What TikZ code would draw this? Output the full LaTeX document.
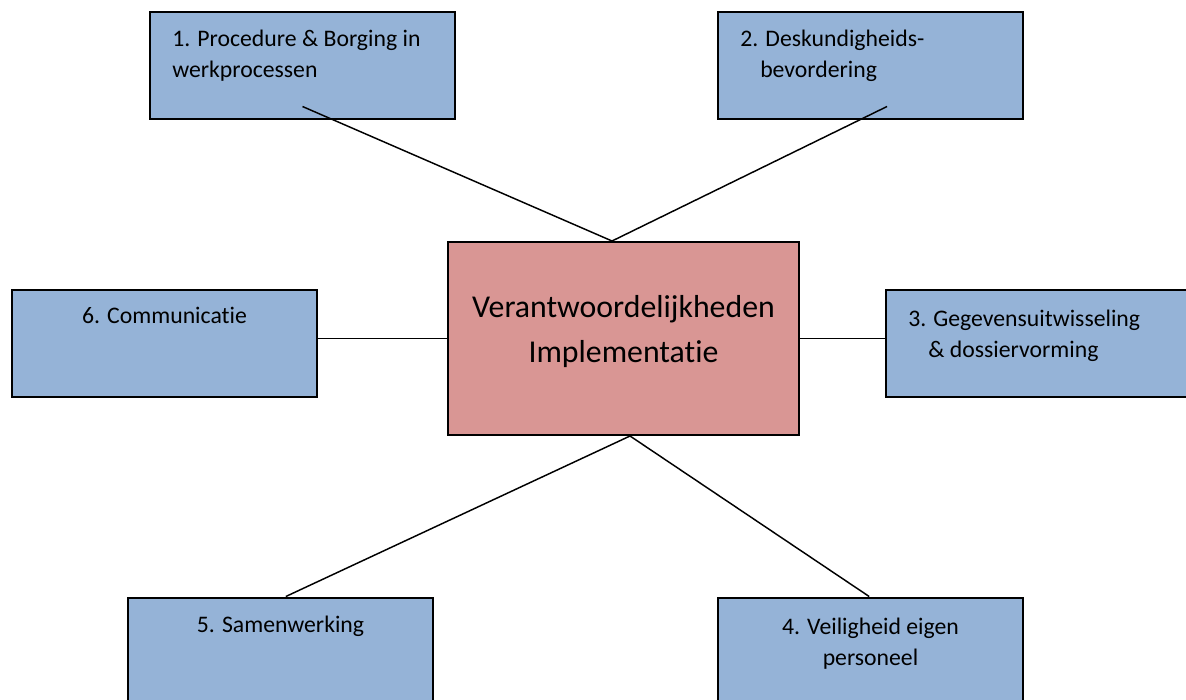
\documentclass[tikz,border=0pt]{standalone}
\usepackage{fontspec}
\setmainfont{Carlito}[Ligatures=NoCommon]
\usepackage{tikz}
\usepackage{xcolor}
\definecolor{boxblue}{RGB}{149,179,215}
\definecolor{hubpink}{RGB}{217,150,148}

\begin{document}
\begin{tikzpicture}[x=0.75pt, y=-0.75pt,
    themebox/.style={draw, line width=1.5pt, fill=boxblue, minimum width=228.75pt, minimum height=80.25pt, inner sep=0pt},
    hubbox/.style={draw, line width=1.5pt, fill=hubpink, minimum width=263.25pt, minimum height=144.75pt, inner sep=0pt},
    boxtext/.style={inner sep=0pt, font=\fontsize{17.8}{23.25}\selectfont},
    link/.style={line width=1.1pt}]
    \clip (0,0) rectangle (1186,700);

    % Centre box
    \node[hubbox] (hub) at (623.5,338.5) {};
    \node[inner sep=0pt, align=center, anchor=base, font=\fontsize{23.85}{33.75}\selectfont] (hubtext) at (623.5,362) {Verantwoordelijkheden\\Implementatie};

    % Theme boxes
    \node[themebox] (b1) at (302.5,65) {};
    \node[themebox] (b2) at (870.5,65) {};
    \node[themebox] (b3) at (1038.5,343) {};
    \node[themebox] (b4) at (870.5,651) {};
    \node[themebox] (b5) at (280.5,651) {};
    \node[themebox] (b6) at (164.5,343) {};

    % Box texts
    \node[boxtext, align=left, anchor=base west] (t1) at (172,77) {1. Procedure \& Borging in\\werkprocessen};
    \node[boxtext, align=left, anchor=base west] (t2) at (740,77) {2. Deskundigheids-\\\hspace*{15pt}bevordering};
    \node[boxtext, align=left, anchor=base west] (t3) at (908,357) {3. Gegevensuitwisseling\\\hspace*{15pt}\& dossiervorming};
    \node[boxtext, align=center, anchor=base] (t4) at (870.5,665) {4. Veiligheid eigen\\personeel};
    \node[boxtext, anchor=base] (t5) at (280.5,632) {5. Samenwerking};
    \node[boxtext, anchor=base] (t6) at (164.5,323) {6. Communicatie};

    % Connectors
    \draw[link] ([yshift=9.75pt]b1.south) -- ([xshift=-8.6pt]hub.north);
    \draw[link] ([shift={(12.4pt,9.75pt)}]b2.south) -- ([xshift=-8.6pt]hub.north);
    \draw[link] (hub.west) -- (hub.west -| b6.east);
    \draw[link] (hub.east) -- (hub.east -| b3.west);
    \draw[link] ([xshift=4.9pt]hub.south) -- ([xshift=4pt]b5.north);
    \draw[link] ([xshift=4.9pt]hub.south) -- ([xshift=-1pt]b4.north);

\end{tikzpicture}
\end{document}
